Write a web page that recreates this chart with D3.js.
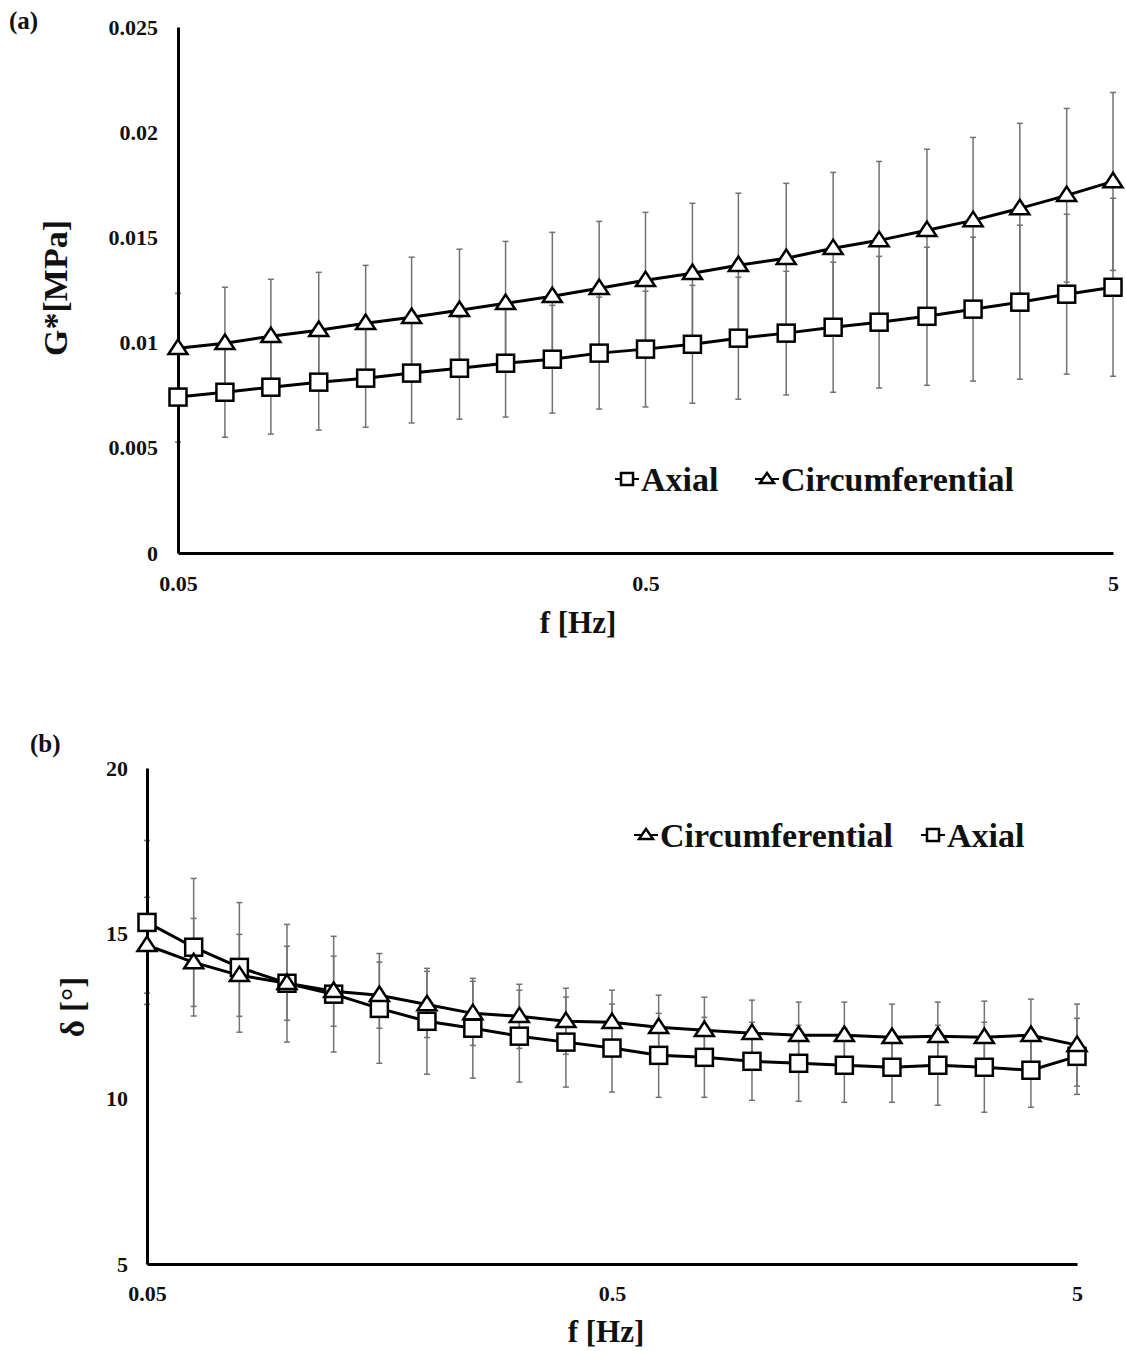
<!DOCTYPE html>
<html>
<head>
<meta charset="utf-8">
<script src="https://cdn.jsdelivr.net/npm/d3@7"></script>
<style>
body { margin: 0; background: #fff; }
text { font-family: "Liberation Serif", "Times New Roman", serif; font-weight: bold; fill: #111; }
</style>
</head>
<body>
<div class="js-chart"></div>
<script>
'use strict';

// frequency sweep, 10 points per decade
const FREQ = [0.05, 0.063, 0.079, 0.1, 0.126, 0.158, 0.2, 0.251, 0.316, 0.398, 0.5,
	0.63, 0.79, 1, 1.26, 1.58, 2, 2.51, 3.16, 3.98, 5];

// (a) complex shear modulus G* [MPa], mean and SD
const G_AXIAL = [0.00741, 0.00764, 0.00788, 0.00812, 0.00831, 0.00855, 0.00878, 0.00902, 0.00921, 0.00950, 0.00969,
	0.00992, 0.01021, 0.01045, 0.01073, 0.01097, 0.01125, 0.01159, 0.01192, 0.01230, 0.01263];
const G_AXIAL_SD = [0.00214, 0.00214, 0.00223, 0.00228, 0.00233, 0.00237, 0.00242, 0.00256, 0.00256, 0.00266, 0.00275,
	0.00280, 0.00290, 0.00294, 0.00309, 0.00313, 0.00328, 0.00342, 0.00366, 0.00380, 0.00423];
const G_CIRC = [0.00973, 0.00997, 0.01030, 0.01059, 0.01092, 0.01121, 0.01154, 0.01187, 0.01220, 0.01258, 0.01296,
	0.01330, 0.01368, 0.01401, 0.01448, 0.01486, 0.01534, 0.01581, 0.01638, 0.01700, 0.01766];
const G_CIRC_SD = [0.00261, 0.00266, 0.00271, 0.00275, 0.00275, 0.00285, 0.00290, 0.00294, 0.00304, 0.00318, 0.00323,
	0.00332, 0.00342, 0.00356, 0.00361, 0.00375, 0.00385, 0.00394, 0.00404, 0.00413, 0.00423];

// (b) phase angle delta [deg], mean and SD
const D_AXIAL = [15.33, 14.58, 13.97, 13.49, 13.16, 12.73, 12.34, 12.13, 11.89, 11.71, 11.53,
	11.31, 11.25, 11.13, 11.07, 11.01, 10.95, 11.01, 10.95, 10.86, 11.28];
const D_AXIAL_SD = [2.48, 2.08, 1.96, 1.78, 1.75, 1.66, 1.60, 1.51, 1.39, 1.36, 1.33,
	1.27, 1.21, 1.18, 1.15, 1.12, 1.06, 1.21, 1.36, 1.12, 1.15];
const D_CIRC = [14.64, 14.12, 13.73, 13.49, 13.25, 13.13, 12.85, 12.58, 12.49, 12.34, 12.31,
	12.16, 12.07, 11.98, 11.92, 11.92, 11.86, 11.89, 11.86, 11.92, 11.62];
const D_CIRC_SD = [1.45, 1.33, 1.24, 1.12, 1.06, 1.00, 1.00, 0.97, 0.97, 1.00, 0.97,
	0.97, 1.00, 1.00, 1.00, 1.00, 1.00, 1.03, 1.09, 1.09, 1.24];

const X_TICKS = [0.05, 0.5, 5];
const G_TICKS = [0, 0.005, 0.01, 0.015, 0.02, 0.025];
const D_TICKS = [5, 10, 15, 20];

const svg = d3.select('.js-chart')
	.append('svg')
	.attr('width', 1126)
	.attr('height', 1351);

function zip(xs, ys, sds) {
	return xs.map((x, i) => ({x: x, y: ys[i], sd: sds[i]}));
}

function drawMarker(g, shape, size) {
	if (shape === 'square') {
		g.append('rect')
			.attr('x', -size / 2).attr('y', -size / 2)
			.attr('width', size).attr('height', size)
			.attr('fill', '#fff').attr('stroke', '#000').attr('stroke-width', 2.5);
	} else {
		const h = size * 0.85;
		g.append('path')
			.attr('d', `M0,${-h * 0.6}L${size / 2 + 1},${h * 0.4}L${-size / 2 - 1},${h * 0.4}Z`)
			.attr('fill', '#fff').attr('stroke', '#000').attr('stroke-width', 2.5)
			.attr('stroke-linejoin', 'miter');
	}
}

function drawPanel(p) {
	const x = d3.scaleLog().domain([0.05, 5]).range([p.left, p.right]);
	const y = d3.scaleLinear().domain(p.yDomain).range([p.bottom, p.top]);

	const g = svg.append('g');

	// error bars behind everything
	p.series.forEach(function(s) {
		const eb = g.append('g').selectAll('g')
			.data(s.data)
			.enter()
			.append('g')
			.attr('stroke', '#727272')
			.attr('stroke-width', 1.5);
		eb.append('line')
			.attr('x1', d => x(d.x)).attr('x2', d => x(d.x))
			.attr('y1', d => y(d.y - d.sd)).attr('y2', d => y(d.y + d.sd));
		[-1, 1].forEach(function(sign) {
			eb.append('line')
				.attr('x1', d => x(d.x) - 3).attr('x2', d => x(d.x) + 3)
				.attr('y1', d => y(d.y + sign * d.sd)).attr('y2', d => y(d.y + sign * d.sd));
		});
	});

	// axes (no tick marks, only the lines and labels)
	const yAxis = g.append('g')
		.attr('transform', `translate(${p.left},0)`)
		.call(d3.axisLeft(y).tickValues(p.yTicks).tickSize(0).tickPadding(p.yPad)
			.tickFormat(d => String(d)));
	const xAxis = g.append('g')
		.attr('transform', `translate(0,${p.bottom})`)
		.call(d3.axisBottom(x).tickValues(X_TICKS).tickSize(0).tickPadding(p.xPad)
			.tickFormat(d => String(d)));
	[yAxis, xAxis].forEach(function(a) {
		a.select('.domain').attr('stroke', '#000').attr('stroke-width', 3);
		a.selectAll('text').attr('font-size', 22).attr('fill', '#111')
			.style('font-family', '"Liberation Serif", serif').style('font-weight', 'bold');
	});

	// series lines and markers
	const line = d3.line().x(d => x(d.x)).y(d => y(d.y));
	p.series.forEach(function(s) {
		g.append('path')
			.datum(s.data)
			.attr('d', line)
			.attr('fill', 'none')
			.attr('stroke', '#000')
			.attr('stroke-width', 3);
	});
	p.series.forEach(function(s) {
		g.append('g').selectAll('g')
			.data(s.data)
			.enter()
			.append('g')
			.attr('transform', d => `translate(${x(d.x)},${y(d.y)})`)
			.each(function() { drawMarker(d3.select(this), s.shape, 17); });
	});

	// titles
	g.append('text')
		.attr('x', p.letter[0]).attr('y', p.letter[1])
		.attr('font-size', 25)
		.text(p.letterText);
	g.append('text')
		.attr('x', p.xTitle[0]).attr('y', p.xTitle[1])
		.attr('text-anchor', 'middle')
		.attr('font-size', 31)
		.text('f [Hz]');
	g.append('text')
		.attr('transform', `translate(${p.yTitle[0]},${p.yTitle[1]}) rotate(-90)`)
		.attr('text-anchor', 'middle')
		.attr('font-size', p.yTitleSize)
		.text(p.yTitleText);

	// legend
	p.legend.forEach(function(item) {
		const lg = g.append('g').attr('transform', `translate(${item.x},${p.legendY})`);
		lg.append('line')
			.attr('x1', -12).attr('x2', 12)
			.attr('stroke', '#000').attr('stroke-width', 2);
		drawMarker(lg, item.shape, 12);
		lg.append('text')
			.attr('x', 14).attr('y', 0).attr('dy', '0.35em')
			.attr('font-size', 34)
			.text(item.label);
	});
}

drawPanel({
	left: 178, right: 1113, top: 27, bottom: 553,
	yDomain: [0, 0.025], yTicks: G_TICKS, yPad: 20, xPad: 22,
	letter: [9, 29], letterText: '(a)',
	xTitle: [578, 633],
	yTitle: [67, 288], yTitleText: 'G*[MPa]', yTitleSize: 34,
	legendY: 479,
	legend: [
		{shape: 'square', label: 'Axial', x: 627},
		{shape: 'triangle', label: 'Circumferential', x: 767}
	],
	series: [
		{shape: 'square', data: zip(FREQ, G_AXIAL, G_AXIAL_SD)},
		{shape: 'triangle', data: zip(FREQ, G_CIRC, G_CIRC_SD)}
	]
});

drawPanel({
	left: 147, right: 1077, top: 768, bottom: 1264,
	yDomain: [5, 20], yTicks: D_TICKS, yPad: 19, xPad: 21,
	letter: [30, 752], letterText: '(b)',
	xTitle: [606, 1342],
	yTitle: [84, 1007], yTitleText: 'δ [°]', yTitleSize: 33,
	legendY: 835,
	legend: [
		{shape: 'triangle', label: 'Circumferential', x: 646},
		{shape: 'square', label: 'Axial', x: 933}
	],
	series: [
		{shape: 'square', data: zip(FREQ, D_AXIAL, D_AXIAL_SD)},
		{shape: 'triangle', data: zip(FREQ, D_CIRC, D_CIRC_SD)}
	]
});
</script>
</body>
</html>
